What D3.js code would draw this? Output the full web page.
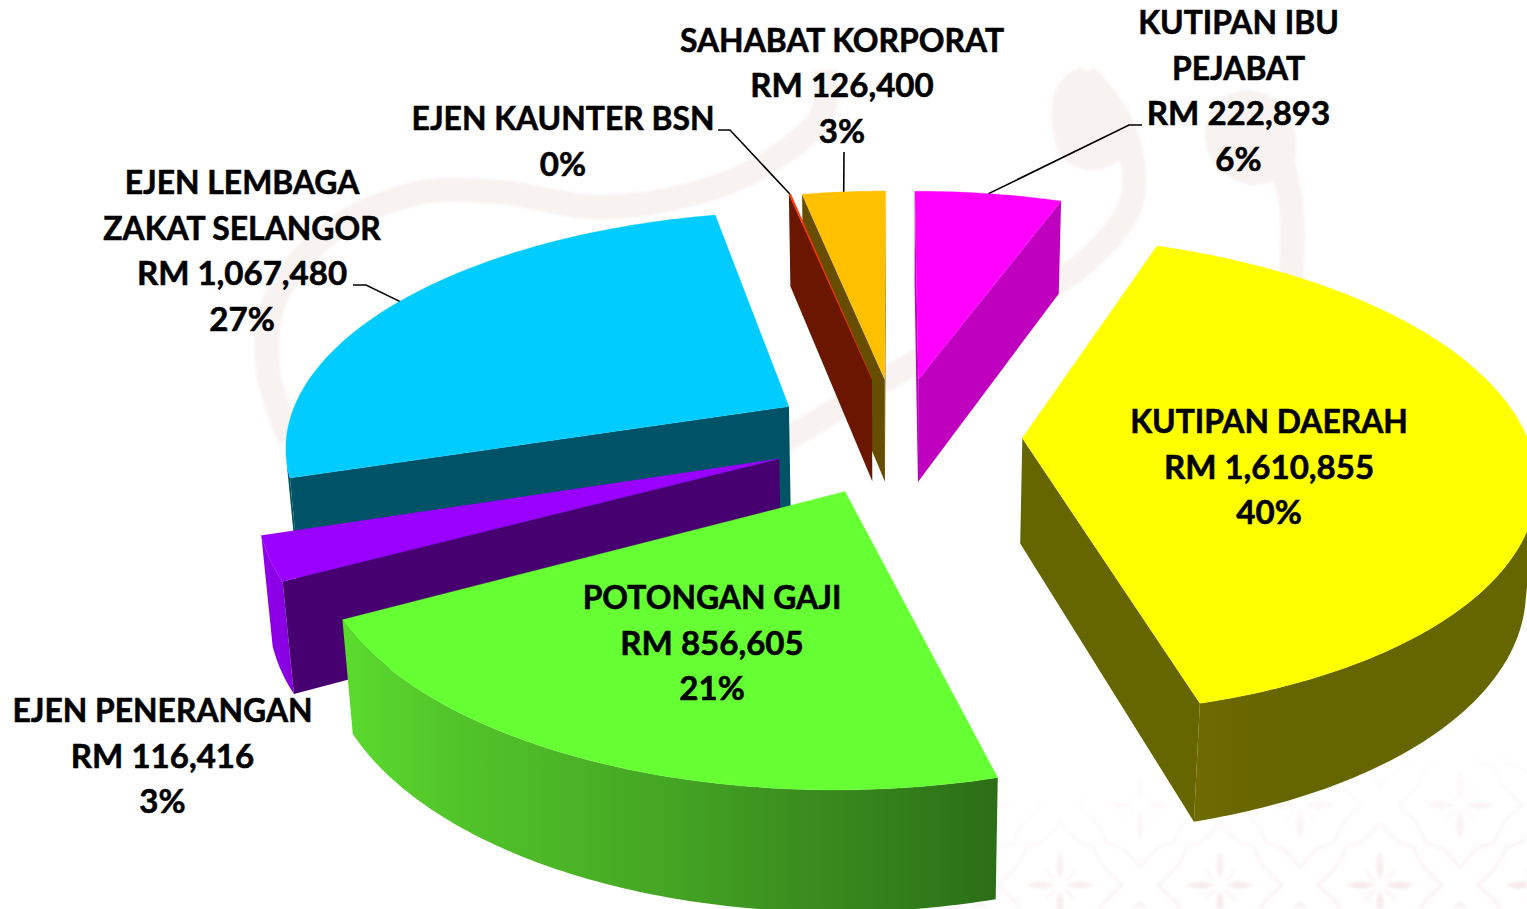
<!DOCTYPE html>
<html><head><meta charset="utf-8">
<style>html,body{margin:0;padding:0;background:#fff;overflow:hidden}svg{display:block}
text{font-family:Lato,'Noto Sans',sans-serif;font-weight:700;fill:#000;stroke:#000;stroke-width:.55px;text-anchor:middle}</style>
</head><body><svg id="c" width="1527" height="909"></svg>
<script src="https://cdn.jsdelivr.net/npm/d3@7"></script>
<script>
// ---- data ----
const categories=['KUTIPAN IBU PEJABAT','KUTIPAN DAERAH','POTONGAN GAJI','EJEN PENERANGAN','EJEN LEMBAGA ZAKAT SELANGOR','EJEN KAUNTER BSN','SAHABAT KORPORAT'];
const values=[222893,1610855,856605,116416,1067480,3000,126400];
const topColors=['#FF00FF','#FFFF00','#66FF33','#9900FF','#00CCFF','#FF3300','#FFC000'];
const sideColors=['#BF00BF','#666600','#47B224','#47006F','#005266','#6B1600','#664D00'];
const labelLines=[['KUTIPAN IBU','PEJABAT','RM 222,893','6%'],['KUTIPAN DAERAH','RM 1,610,855','40%'],['POTONGAN GAJI','RM 856,605','21%'],['EJEN PENERANGAN','RM 116,416','3%'],['EJEN LEMBAGA','ZAKAT SELANGOR','RM 1,067,480','27%'],['EJEN KAUNTER BSN','0%'],['SAHABAT KORPORAT','RM 126,400','3%']];
// ---- layout ----
const labelX=[1238.5,1269,712,162.5,242,563,842];
const labelY=[34,433,609,722,194,130,51.6];
const lineStep=45.7, fontSize=31.5, wordStretch=1.012, numberStretch=1.05;
const explode=[126.7,124.1,125.7,125,126.6,129,126];
const cam={cx:897.07,cy:541,f:3172.03,dist:2942.95,th:.4726,kx:.9201,H:107.9,a0:-.0017,R:500};
const leaders=[[0,[1142,125],[1129,125]],[6,[844,152],[844,152]],[5,[718,130],[730,130]],[4,[353,285],[366,285]]];
// wall shading, left to right across each slice's visible rim
const rimStops={1:['#706B00','#6A6700','#666600','#666600','#666600','#666600','#666600','#666600','#666600'],
  2:['#5BDB2E','#52C52A','#4BB526','#44A523','#3C911F','#33801B','#2C6E17'],
  3:['#8E00EA','#8800E0']};

const svg=d3.select('#c');
const project=(X,Y,Z)=>{const s=Math.sin(cam.th),c=Math.cos(cam.th),zc=cam.dist-Y*c-Z*s;
  return [cam.cx+cam.f*cam.kx*X/zc,cam.cy+cam.f*(Y*s-Z*c)/zc];};
const line=d3.line();
const pie=d3.pie().sort(null).value(d=>d).startAngle(cam.a0).endAngle(cam.a0+2*Math.PI);
const slices=pie(values).map((d,i)=>({...d,i,mid:(d.startAngle+d.endAngle)/2}));
const apexOf=d=>[explode[d.i]*Math.sin(d.mid),-explode[d.i]*Math.cos(d.mid)];
const rimPoint=(d,a,z)=>{const [x,y]=apexOf(d);return project(x+cam.R*Math.sin(a),y-cam.R*Math.cos(a),z);};
const apexPoint=(d,z)=>{const [x,y]=apexOf(d);return project(x,y,z);};
const arcAngles=d=>{const n=Math.max(1,Math.ceil((d.endAngle-d.startAngle)/(Math.PI/240)));
  return d3.range(n+1).map(k=>d.startAngle+(d.endAngle-d.startAngle)*k/n);};
const facing=p=>d3.polygonArea(p)>0;

// ---- faint background artwork ----
const defs=svg.append('defs');
defs.append('filter').attr('id','soft').append('feGaussianBlur').attr('stdDeviation',1.6);
const bg=svg.append('g').attr('class','watermark');
const ink=bg.append('g').attr('filter','url(#soft)');
const curve=d3.line().curve(d3.curveCatmullRom.alpha(.5));
const swirls=[
 {w:24,p:[[1085,75],[1122,125],[1132,200],[1085,262],[985,322],[890,377],[790,437],[740,462]]},
 {w:24,p:[[1282,160],[1292,215],[1290,290]]},
 {w:24,p:[[825,70],[822,115],[772,160],[700,192],[597,207],[500,192],[418,193],[330,232],[275,300],[268,370],[290,440]]}
];
const blobs=[
 [[1080,68],[1110,95],[1132,125],[1125,155],[1095,170],[1065,160],[1053,130],[1056,90]],
 [[1245,90],[1275,100],[1295,135],[1290,170],[1255,185],[1220,170],[1205,140],[1215,105]],
];
ink.selectAll('path.sw').data(swirls).join('path').attr('class','sw').attr('d',d=>curve(d.p))
  .attr('fill','none').attr('stroke','#f8f2f0').attr('stroke-width',d=>d.w);
ink.selectAll('path.bl').data(blobs).join('path').attr('class','bl')
  .attr('d',d3.line().curve(d3.curveCatmullRomClosed)).attr('fill','#f8f2f0');
const tile=defs.append('pattern').attr('id','batik').attr('patternUnits','userSpaceOnUse')
  .attr('width',160).attr('height',160).attr('x',1140).attr('y',725);
const petalPath='M0,-6C5,-14 4,-26 0,-34C-4,-26 -5,-14 0,-6Z';
[[80,160],[80,0],[0,80],[160,80]].forEach(([tx,ty])=>{
  const g=tile.append('g').attr('transform',`translate(${tx},${ty})`);
  d3.range(8).forEach(k=>g.append('path').attr('d',petalPath).attr('fill','#f5e2e5').attr('opacity',k%2?.4:1)
    .attr('transform',`rotate(${k*45}) scale(${k%2?.7:1})`));
  g.append('path').attr('fill','none').attr('stroke','#f7eef0').attr('stroke-width',3.5)
   .attr('d','M0,-62C14,-48 14,-42 34,-38C40,-18 48,-14 62,0C48,14 40,18 34,38C14,42 14,48 0,62C-14,48 -14,42 -34,38C-40,18 -48,14 -62,0C-48,-14 -40,-18 -34,-38C-14,-42 -14,-48 0,-62Z');
});
const fade=defs.append('linearGradient').attr('id','fade').attr('x1',0).attr('y1',0).attr('x2',.35).attr('y2',1);
fade.append('stop').attr('offset','20%').attr('stop-color','#fff').attr('stop-opacity',0);
fade.append('stop').attr('offset','100%').attr('stop-color','#fff').attr('stop-opacity',.75);
const mask=defs.append('mask').attr('id','batikMask').attr('maskUnits','userSpaceOnUse').attr('x',960).attr('y',750).attr('width',567).attr('height',159);
mask.append('rect').attr('x',960).attr('y',750).attr('width',567).attr('height',159).attr('fill','url(#fade)');
bg.append('g').attr('filter','url(#soft)').append('rect').attr('x',960).attr('y',750).attr('width',567).attr('height',159).attr('fill','url(#batik)').attr('mask','url(#batikMask)');

// ---- slices, far to near ----
const order=slices.slice().sort((a,b)=>-Math.cos(a.mid)+Math.cos(b.mid));
const gs=svg.selectAll('g.slice').data(order).join('g').attr('class','slice');
gs.each(function(d){
  const g=d3.select(this),H=cam.H,angles=arcAngles(d);
  // the rim wall is one polygon spanning the angles whose wall faces the viewer
  const front=angles.filter((a,k)=>k<angles.length-1&&facing([rimPoint(d,a,H),rimPoint(d,angles[k+1],H),rimPoint(d,angles[k+1],0),rimPoint(d,a,0)]));
  if(front.length){
    const last=angles[angles.indexOf(front[front.length-1])+1],run=[...front,last];
    const wall=[...run.map(a=>rimPoint(d,a,H)),...run.slice().reverse().map(a=>rimPoint(d,a,0))];
    let fill=sideColors[d.i];
    if(rimStops[d.i]){
      const xs=d3.extent(wall,p=>p[0]),id='rim'+d.i;
      const grad=defs.append('linearGradient').attr('id',id).attr('gradientUnits','userSpaceOnUse')
        .attr('x1',xs[0]).attr('x2',xs[1]).attr('y1',0).attr('y2',0);
      rimStops[d.i].forEach((c,k,a)=>grad.append('stop').attr('offset',k/(a.length-1)).attr('stop-color',c));
      fill=`url(#${id})`;
    }
    g.append('path').attr('class','rim').attr('d',line(wall)+'Z').attr('fill',fill);
  }
  const radial=[d.startAngle,d.endAngle].map(a=>[apexPoint(d,H),rimPoint(d,a,H),rimPoint(d,a,0),apexPoint(d,0)]);
  const faces=[radial[0],[...radial[1]].reverse()].filter(facing);
  g.selectAll('path.side').data(faces).join('path').attr('class','side').attr('d',p=>line(p)+'Z')
    .attr('fill',sideColors[d.i]);
  g.append('path').attr('class','top').attr('d',line([apexPoint(d,H),...angles.map(a=>rimPoint(d,a,H))])+'Z')
    .attr('fill',topColors[d.i]).attr('stroke',topColors[d.i]).attr('stroke-width',.3);
});

// ---- leaders ----
svg.selectAll('path.leader').data(leaders).join('path').attr('class','leader')
  .attr('d',([i,a,b])=>line([a,b,rimPoint(slices[i],slices[i].mid,cam.H)]))
  .attr('fill','none').attr('stroke','#000').attr('stroke-width',1.6);

// ---- labels ----
const lg=svg.selectAll('g.label').data(slices).join('g').attr('class','label');
lg.selectAll('text').data(d=>labelLines[d.i].map((t,k)=>({t,k,i:d.i}))).join('text')
  .attr('transform',d=>`translate(${labelX[d.i]},${labelY[d.i]+d.k*lineStep}) scale(${/\d/.test(d.t)?numberStretch:wordStretch},1)`)
  .attr('font-size',fontSize).text(d=>d.t);
</script></body></html>
